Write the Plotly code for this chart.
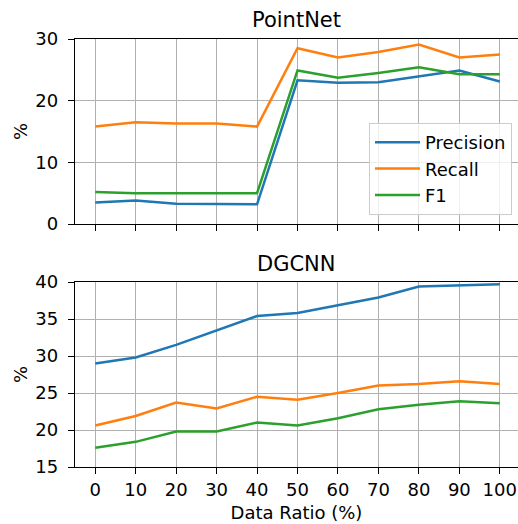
import plotly.graph_objects as go

ratios = [0, 10, 20, 30, 40, 50, 60, 70, 80, 90, 100]

pn_precision = [3.5, 3.8, 3.3, 3.3, 3.2, 23.3, 22.9, 23.0, 23.9, 24.9, 23.1]
pn_recall = [15.8, 16.5, 16.3, 16.3, 15.8, 28.5, 27.0, 27.9, 29.1, 27.0, 27.5]
pn_f1 = [5.2, 5.0, 5.0, 5.0, 5.0, 24.9, 23.7, 24.5, 25.4, 24.3, 24.3]

dg_precision = [29.0, 29.8, 31.5, 33.5, 35.4, 35.8, 36.8, 37.9, 39.4, 39.6, 39.7]
dg_recall = [20.6, 21.9, 23.7, 22.9, 24.5, 24.1, 25.0, 26.0, 26.2, 26.6, 26.2]
dg_f1 = [17.6, 18.4, 19.8, 19.8, 21.0, 20.6, 21.6, 22.8, 23.4, 23.9, 23.6]

series_names = ["Precision", "Recall", "F1"]
colors = ["#1f77b4", "#ff7f0e", "#2ca02c"]

W, H = 518, 524
L = 75

fig = go.Figure()

for i, (name, ys) in enumerate(zip(series_names, [pn_precision, pn_recall, pn_f1])):
    fig.add_trace(go.Scatter(x=ratios, y=ys, mode="lines", name=name,
                             line=dict(color=colors[i], width=2.5),
                             xaxis="x", yaxis="y", showlegend=True))
for i, (name, ys) in enumerate(zip(series_names, [dg_precision, dg_recall, dg_f1])):
    fig.add_trace(go.Scatter(x=ratios, y=ys, mode="lines", name=name,
                             line=dict(color=colors[i], width=2.5),
                             xaxis="x2", yaxis="y2", showlegend=False))

font_family = "DejaVu Sans"
FS = 18
tick_font = dict(family=font_family, size=FS, color="black")

common_x = dict(range=[-5, 104.5], tickmode="array", tickvals=ratios,
                showgrid=True, gridcolor="#b0b0b0", gridwidth=1.2,
                showline=True, linecolor="black", linewidth=1.3, mirror=True,
                ticks="outside", ticklen=6, tickwidth=1.3, tickcolor="black",
                zeroline=False, tickfont=tick_font, automargin=False)
common_y = dict(showgrid=True, gridcolor="#b0b0b0", gridwidth=1.2,
                showline=True, linecolor="black", linewidth=1.3, mirror=False,
                ticks="outside", ticklen=6, tickwidth=1.3, tickcolor="black",
                zeroline=False, tickfont=tick_font, ticklabelstandoff=6,
                automargin=False)

def py(px):
    return 1 - px / H

fig.update_layout(
    width=W, height=H,
    margin=dict(l=L, r=0, t=0, b=0, autoexpand=False),
    paper_bgcolor="white", plot_bgcolor="white",
    font=dict(family=font_family, size=FS, color="black"),
    xaxis=dict(**common_x, domain=[0, 1], anchor="y", showticklabels=False),
    yaxis=dict(**common_y, domain=[py(224), py(39)], anchor="x",
               range=[0, 30], tickvals=[0, 10, 20, 30],
               title=dict(text="%", font=dict(family=font_family, size=FS), standoff=3)),
    xaxis2=dict(**common_x, domain=[0, 1], anchor="y2",
                ticktext=[str(r) for r in ratios],
                title=dict(text="Data Ratio (%)", font=dict(family=font_family, size=FS), standoff=7)),
    yaxis2=dict(**common_y, domain=[py(467), py(282)], anchor="x2",
                range=[15, 40], tickvals=[15, 20, 25, 30, 35, 40],
                title=dict(text="%", font=dict(family=font_family, size=FS), standoff=3)),
    legend=dict(x=(512 - L) / (W - L), xanchor="right", y=py(215), yanchor="bottom",
                bgcolor="rgba(255,255,255,0.8)", bordercolor="#cccccc", borderwidth=1,
                font=dict(family=font_family, size=FS, color="black"),
                itemwidth=45, tracegroupgap=0),
    showlegend=True,
)

fig.add_annotation(text="PointNet", xref="paper", yref="paper", x=0.5, y=py(20),
                   xanchor="center", yanchor="middle", showarrow=False,
                   font=dict(family=font_family, size=21, color="black"))
fig.add_annotation(text="DGCNN", xref="paper", yref="paper", x=0.5, y=py(264),
                   xanchor="center", yanchor="middle", showarrow=False,
                   font=dict(family=font_family, size=21, color="black"))

fig.write_html("out.html")
